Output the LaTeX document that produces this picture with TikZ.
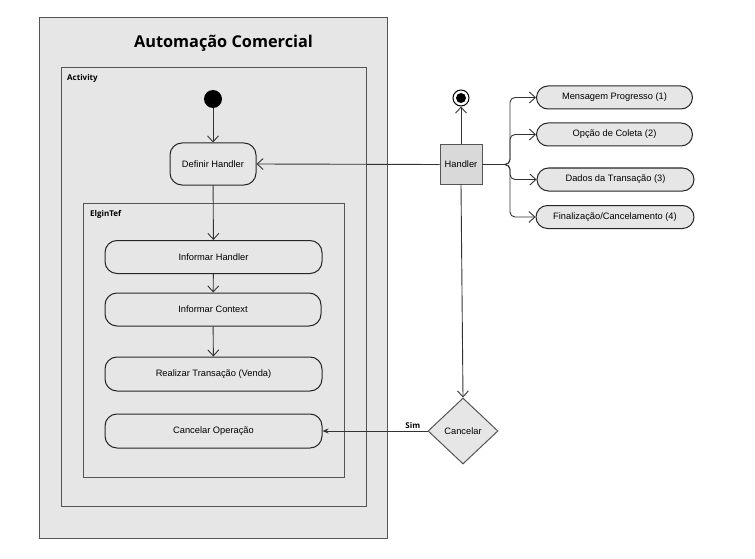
\documentclass[tikz,border=0pt]{standalone}
\usepackage{fontspec}
\setmainfont{Liberation Sans}
\newfontfamily\titlefont{Open Sans}
\usetikzlibrary{arrows.meta,shapes.geometric}
\definecolor{boxgray}{HTML}{E6E6E6}
\definecolor{handgray}{HTML}{D9D9D9}
\definecolor{edgegray}{HTML}{555555}
\tikzset{
  frame/.style={draw=edgegray, line width=1pt, fill=boxgray},
  act/.style={draw=black!85, line width=1pt, rounded corners=12pt, fill=boxgray, align=center, font=\fontsize{9.3}{11}\selectfont, inner sep=0pt},
  pill/.style={draw=black!85, line width=1pt, rounded corners=11.5pt, fill=boxgray, font=\fontsize{9.3}{11}\selectfont, inner sep=0pt, minimum width=156pt, minimum height=23pt},
  flow/.style={draw=black!80, line width=0.9pt, -{Straight Barb[length=6pt,width=11pt]}},
  flowfill/.style={draw=black!80, line width=0.9pt, -{Stealth[length=6pt,width=5pt]}},
  boldlabel/.style={font=\titlefont\bfseries\fontsize{8}{9}\selectfont, anchor=west, inner sep=0pt}
}
\begin{document}
\begin{tikzpicture}[x=1pt,y=-1pt]
\useasboundingbox (0,0) rectangle (755,559);
% frames
\draw[frame] (39,18) rectangle (387,538);
\node[font=\titlefont\bfseries\fontsize{16.3}{19}\selectfont] (title) at (223.5,43) {Automação Comercial};
\draw[frame] (61,68) rectangle (366,506);
\node[boldlabel] (actlbl) at (67,78) {Activity};
\draw[frame] (83,203) rectangle (344,477);
\node[boldlabel] (elglbl) at (90,214) {ElginTef};
% activity nodes
\node[circle, fill=black, minimum size=18pt, inner sep=0pt] (start) at (213,99) {};
\node[act, minimum width=86pt, minimum height=42pt] (def) at (213,164) {Definir Handler};
\node[act, minimum width=217pt, minimum height=33pt] (ih) at (213.5,257) {Informar Handler};
\node[act, minimum width=216pt, minimum height=33pt] (ic) at (213,309.5) {Informar Context};
\node[act, minimum width=217pt, minimum height=34pt] (rt) at (213.5,374) {Realizar Transação (Venda)};
\node[act, minimum width=217pt, minimum height=34pt] (co) at (213.5,431) {Cancelar Operação};
% handler
\node[draw=edgegray, line width=1pt, fill=handgray, minimum width=42pt, minimum height=39pt, inner sep=0pt, font=\fontsize{9.3}{11}\selectfont] (hand) at (461,164.5) {Handler};
\node[circle, draw=black, line width=1pt, fill=white, minimum size=16pt, inner sep=0pt] (endo) at (461,98) {};
\node[circle, fill=black, minimum size=10pt, inner sep=0pt] (endi) at (461,98) {};
\node[diamond, draw=edgegray, line width=1pt, fill=boxgray, minimum width=70pt, minimum height=66pt, inner sep=0pt, font=\fontsize{9.3}{11}\selectfont] (canc) at (463,431) {Cancelar};
% pills
\node[pill] (m1) at (614.5,97.5) {Mensagem Progresso (1)};
\node[pill] (m2) at (614.5,134.5) {Opção de Coleta (2)};
\node[pill, minimum width=157pt] (m3) at (615.5,179.5) {Dados da Transação (3)};
\node[pill, minimum width=158pt] (m4) at (615,217) {Finalização/Cancelamento (4)};
% connectors
\draw[flow] (start) -- (def);
\draw[flow] (def) -- (ih);
\draw[flow] (ih) -- (ic);
\draw[flow] (ic) -- (rt);
\draw[flow] (hand.west) -- (def.east);
\draw[flow] (hand.north) -- (endo.south);
\draw[flow] (hand.south) -- (canc.north);
\draw[flowfill] (canc.west) -- node[pos=0.14, above, font=\titlefont\bfseries\fontsize{8}{9}\selectfont, inner sep=2pt] (sim) {Sim} (co.east);
\foreach \t in {m1,m2,m3,m4}{
  \draw[flow, rounded corners=5pt] (hand.east) -- (510,164.5) |- (\t.west);
}
\end{tikzpicture}
\end{document}
